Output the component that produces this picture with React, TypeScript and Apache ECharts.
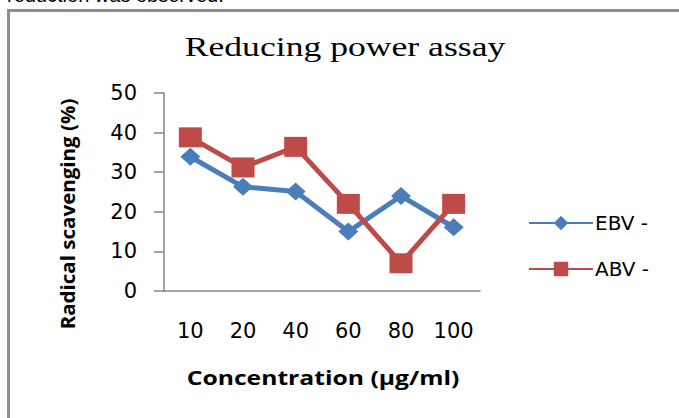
import React, { useEffect, useRef } from "react";
import * as echarts from "echarts";

const categories = ["10", "20", "40", "60", "80", "100"];
const ebvValues = [33.9, 26.3, 25.1, 15.0, 24.0, 16.1];
const abvValues = [38.8, 31.2, 36.4, 22.0, 7.0, 22.0];
const yTicks = { min: 0, max: 50, interval: 10 };
const titleText = "Reducing power assay";
const xAxisName = "Concentration (µg/ml)";
const yAxisName = "Radical scavenging (%)";

export default function App() {
  const ref = useRef<HTMLDivElement>(null);
  useEffect(() => {
    document.body.style.margin = "0";
    const chart = echarts.init(ref.current!, null, { renderer: "svg" });
    chart.setOption({
      animation: false,
      backgroundColor: "#ffffff",
      graphic: [
        {
          type: "rect",
          shape: { x: 8.5, y: 10.5, width: 720, height: 520 },
          style: { fill: "none", stroke: "#8f8f8f", lineWidth: 3 },
        },
        {
          type: "text",
          x: 7,
          y: -5,
          style: {
            text: "reduction was observed.",
            font: "20px 'Liberation Sans'",
            fill: "#000000",
            verticalAlign: "middle",
          },
        },
        {
          type: "text",
          x: 345,
          y: 47,
          scaleX: 1.32,
          style: {
            text: titleText,
            font: "27px 'Liberation Serif'",
            fill: "#000000",
            align: "center",
            verticalAlign: "middle",
          },
        },
        {
          type: "text",
          x: 323,
          y: 377,
          scaleX: 1.3,
          style: {
            text: xAxisName,
            font: "bold 19px 'Open Sans'",
            fill: "#000000",
            align: "center",
            verticalAlign: "middle",
          },
        },
        {
          type: "text",
          x: 68,
          y: 214,
          rotation: Math.PI / 2,
          scaleX: 1.08,
          style: {
            text: yAxisName,
            font: "bold 19px 'Open Sans'",
            fill: "#000000",
            align: "center",
            verticalAlign: "middle",
          },
        },
      ],
      legend: {
        orient: "vertical",
        left: 523,
        top: 208,
        itemWidth: 64,
        itemHeight: 18,
        itemGap: 26,
        textStyle: { fontFamily: "DejaVu Sans", fontSize: 20, color: "#000000", padding: [0, 0, 0, -3] },
        data: ["EBV -", "ABV -"],
      },
      grid: { left: 164, right: 199, top: 93, bottom: 127 },
      xAxis: {
        type: "category",
        data: categories,
        boundaryGap: true,
        axisLine: { lineStyle: { color: "#868686", width: 1.5 } },
        axisTick: { show: false },
        axisLabel: {
          fontFamily: "DejaVu Sans",
          fontSize: 21,
          color: "#000000",
          margin: 29,
          interval: 0,
        },
      },
      yAxis: {
        type: "value",
        min: yTicks.min,
        max: yTicks.max,
        interval: yTicks.interval,
        axisLine: { show: true, lineStyle: { color: "#868686", width: 1.5 } },
        axisTick: { show: true, length: 10, lineStyle: { color: "#868686", width: 1.5 } },
        splitLine: { show: false },
        axisLabel: {
          fontFamily: "DejaVu Sans",
          fontSize: 21,
          color: "#000000",
          margin: 27,
        },
      },
      series: [
        {
          name: "EBV -",
          type: "line",
          data: ebvValues,
          symbol: "diamond",
          symbolSize: [20, 18],
          lineStyle: { color: "#4A7EBB", width: 5 },
          itemStyle: { color: "#4A7EBB" },
        },
        {
          name: "ABV -",
          type: "line",
          data: abvValues,
          symbol: "rect",
          symbolSize: [23, 20],
          lineStyle: { color: "#BE4B48", width: 5 },
          itemStyle: { color: "#BE4B48" },
        },
      ],
    });
    return () => chart.dispose();
  }, []);
  return <div ref={ref} style={{ width: 679, height: 418 }} />;
}
